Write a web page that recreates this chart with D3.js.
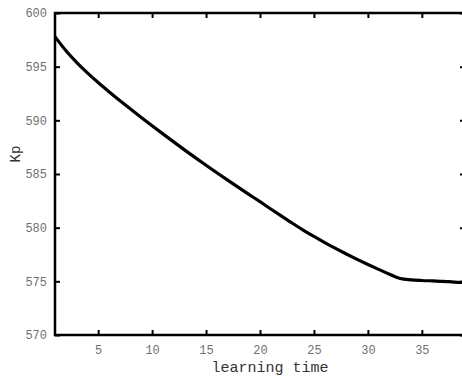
<!DOCTYPE html>
<html><head><meta charset="utf-8">
<script src="https://cdn.jsdelivr.net/npm/d3@7"></script>
<style>body{margin:0;background:#fff;overflow:hidden}svg{display:block}</style>
</head><body>
<script>
const learningTime = [1,2,3,4,5,6,7,8,9,10,11,12,13,14,15,16,17,18,19,20,21,22,23,24,25,26,27,28,29,30,31,32,33,34,35,36,37,38,39];
const kp = [597.8,596.5,595.4,594.42,593.52,592.67,591.85,591.05,590.27,589.5,588.74,587.99,587.25,586.53,585.82,585.12,584.43,583.75,583.08,582.42,581.74,581.07,580.41,579.78,579.18,578.61,578.07,577.55,577.05,576.57,576.11,575.66,575.26,575.14,575.08,575.04,575.0,574.93,574.9];
const xTicks = [5,10,15,20,25,30,35];
const yTicks = [570,575,580,585,590,595,600];

const W = 462, H = 376;
const L = 55, R = 465, T = 13, B = 335;
const svg = d3.select("body").append("svg").attr("width", W).attr("height", H);
const x = d3.scaleLinear().domain([1, 39]).range([L, R]);
const y = d3.scaleLinear().domain([570, 600]).range([B, T]);
const font = "'Liberation Mono', 'DejaVu Sans Mono', monospace";

function styleAxis(g){
  g.select(".domain").remove();
  g.selectAll(".tick line").attr("stroke", "#000").attr("stroke-width", 2);
  g.selectAll(".tick text").attr("fill", "#707070").style("font-family", font).style("font-size", "12px");
}
// bottom
svg.append("g").attr("transform", `translate(0,${B})`)
  .call(d3.axisBottom(x).tickValues(xTicks).tickSizeInner(-5).tickSizeOuter(0).tickPadding(10).tickFormat(d3.format("d")))
  .call(styleAxis);
// top
svg.append("g").attr("transform", `translate(0,${T})`)
  .call(d3.axisTop(x).tickValues(xTicks).tickSizeInner(-5).tickSizeOuter(0).tickFormat(""))
  .call(styleAxis);
// left
svg.append("g").attr("transform", `translate(${L},0)`)
  .call(d3.axisLeft(y).tickValues(yTicks).tickSizeInner(-5).tickSizeOuter(0).tickPadding(8).tickFormat(d3.format("d")))
  .call(styleAxis);
// right
svg.append("g").attr("transform", `translate(${R},0)`)
  .call(d3.axisRight(y).tickValues(yTicks).tickSizeInner(-5).tickSizeOuter(0).tickFormat(""))
  .call(styleAxis);

// frame
svg.append("rect").attr("x", L).attr("y", T).attr("width", R - L).attr("height", B - T)
  .attr("fill", "none").attr("stroke", "#000").attr("stroke-width", 2.5);

// line
const data = learningTime.map((t, i) => ({t, v: kp[i]}));
svg.append("path").datum(data)
  .attr("fill", "none").attr("stroke", "#000").attr("stroke-width", 3.2)
  .attr("stroke-linejoin", "round")
  .attr("d", d3.line().x(d => x(d.t)).y(d => y(d.v)).curve(d3.curveMonotoneX));

// labels
svg.append("text").attr("x", 270).attr("y", 372).attr("text-anchor", "middle")
  .attr("fill", "#333").style("font-family", font).style("font-size", "15px").text("learning time");
svg.append("text").attr("transform", "translate(20,154) rotate(-90)").attr("text-anchor", "middle")
  .attr("fill", "#333").style("font-family", font).style("font-size", "14px").text("Kp");
</script>
</body></html>
